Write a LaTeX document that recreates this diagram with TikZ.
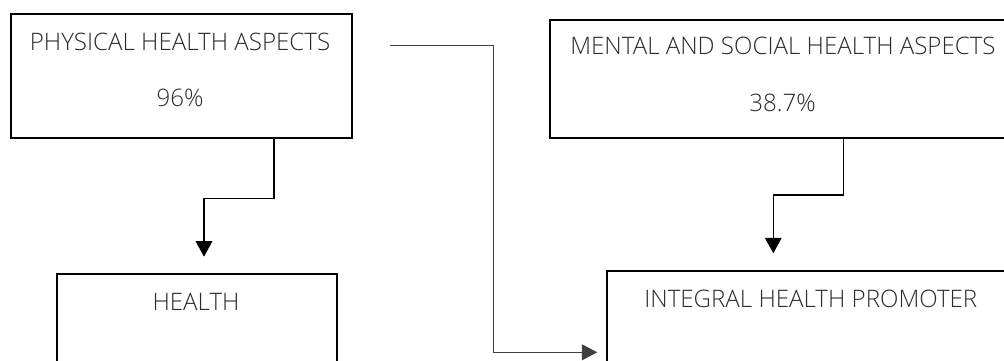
\documentclass[tikz,border=0pt]{standalone}
\usepackage{fontspec}
\setmainfont{Open Sans}[UprightFont=* Light]
\usetikzlibrary{arrows.meta}
\definecolor{txt}{HTML}{2B2B2B}
\tikzset{
  box/.style={draw=black, line width=2pt, anchor=north west, inner sep=0pt},
  lbl/.style={anchor=base, text=txt, inner sep=0pt, font=\fontsize{24.1}{28}\selectfont},
  arr/.style={draw=black, line width=1.5pt, -{Triangle[length=15.5pt,width=16.5pt]}},
  thinarr/.style={draw=black!75, line width=1.2pt, -{Triangle[length=15.5pt,width=16pt]}}
}
\begin{document}
\begin{tikzpicture}[x=1pt,y=-1pt]
\useasboundingbox (0,0) rectangle (1004,361);
\clip (0,0) rectangle (1004,361);
% boxes
\node[box, minimum width=341, minimum height=123.5] (phys) at (9.5,13) {};
\node[box, minimum width=480, minimum height=117.5] (mental) at (549,19) {};
\node[box, minimum width=280, minimum height=120] (health) at (56,273) {};
\node[box, minimum width=420, minimum height=120] (integral) at (606,270) {};
% labels
\node[lbl] (physT) at (180,50.7) {PHYSICAL HEALTH ASPECTS};
\node[lbl] (physV) at (180,106.7) {96\%};
\node[lbl] (mentT) at (783,55) {MENTAL AND SOCIAL HEALTH ASPECTS};
\node[lbl] (mentV) at (782.5,111.7) {38.7\%};
\node[lbl] (healthT) at (196,310) {HEALTH};
\node[lbl] (integT) at (810.8,307.7) {INTEGRAL HEALTH PROMOTER};
% connector coordinates
\coordinate (a1) at (274,198.3);
\coordinate (a2) at (204,198.3);
\coordinate (a3) at (204,256.7);
\coordinate (b1) at (843.3,195);
\coordinate (b2) at (773.3,195);
\coordinate (b3) at (773.3,253.3);
\coordinate (c0) at (390,45.7);
\coordinate (c1) at (493.5,45.7);
\coordinate (c2) at (493.5,352.3);
\coordinate (c3) at (597.3,352.3);
% connectors
\draw[arr] (phys.south -| a1) -- (a1) -- (a2) -- (a3);
\draw[arr] (mental.south -| b1) -- (b1) -- (b2) -- (b3);
\draw[thinarr] (c0) -- (c1) -- (c2) -- (c3);
\end{tikzpicture}
\end{document}
